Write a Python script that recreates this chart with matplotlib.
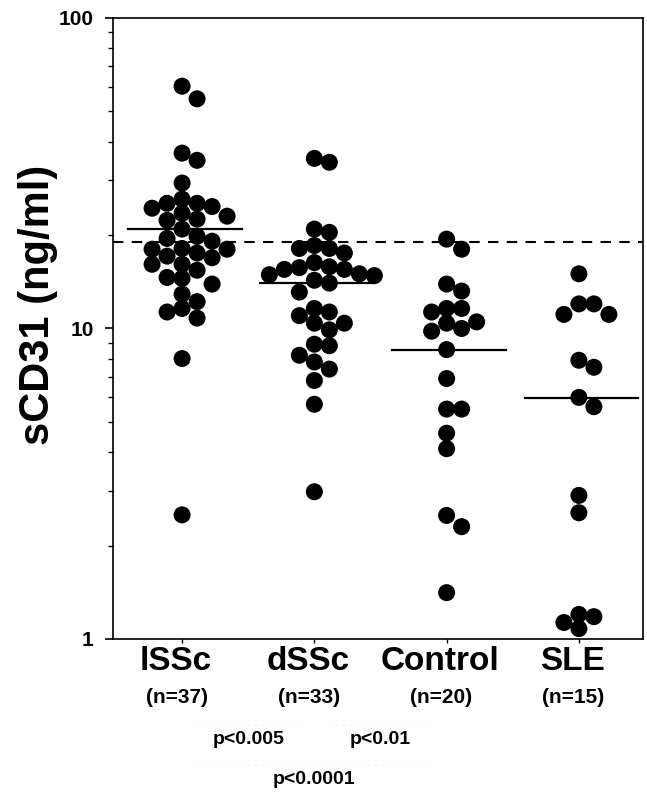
import numpy as np
import matplotlib.pyplot as plt
from matplotlib.ticker import FixedLocator, NullFormatter
import matplotlib.transforms as mtransforms

plt.rcParams['font.family'] = ['Liberation Sans', 'DejaVu Sans']

# ---- data ----
GROUPS = ['lSSc', 'dSSc', 'Control', 'SLE']
N_LABELS = ['(n=37)', '(n=33)', '(n=20)', '(n=15)']

LSSC = [60.3, 54.9, 36.7, 34.8, 29.4, 24.7, 25.3, 26.1, 25.3, 24.4,
        23.0, 23.5, 22.5, 22.3, 20.9, 19.5, 19.8, 19.1, 17.5, 18.1,
        18.0, 18.0, 17.1, 16.9, 16.1, 16.1, 15.4, 14.6, 13.9, 14.5,
        12.9, 12.2, 11.3, 11.6, 10.8, 8.0, 2.51]
DSSC = [35.3, 34.3, 20.9, 20.4, 18.1, 17.5, 18.5, 18.1, 14.8, 15.5,
        15.0, 15.8, 15.5, 16.3, 15.7, 14.3, 14.9, 14.0, 13.1, 11.3,
        11.6, 11.0, 10.4, 10.4, 9.9, 8.8, 8.9, 8.2, 7.8, 7.4,
        6.8, 5.7, 2.98]
CONTROL = [19.4, 18.0, 13.9, 13.2, 11.6, 11.6, 11.3, 10.5, 10.4, 10.0,
           9.8, 8.55, 6.9, 5.5, 5.5, 4.6, 4.1, 2.5, 2.3, 1.41]
SLE = [15.0, 12.0, 12.0, 11.1, 11.1, 7.9, 7.5, 6.0, 5.6, 2.9,
       2.55, 1.13, 1.18, 1.20, 1.08]

MEDIANS = [20.9, 14.0, 8.5, 5.95]
CUTOFF = 19.0

# (group a, group b, label)
COMPARISONS = [(0, 1, 'p<0.005'), (1, 2, 'p<0.01'), (0, 2, 'p<0.0001')]


def swarm_x(ax, xc, values, diam_px=14.0, step_px=15.0):
    """Beeswarm: put each dot as close to the centre as it can go."""
    trans = ax.transData
    inv = trans.inverted()
    cx = trans.transform((xc, 1.0))[0]
    placed = []
    out = np.zeros(len(values))
    for i in np.argsort(values)[::-1]:
        py = trans.transform((xc, values[i]))[1]
        px = None
        for k in range(40):
            cands = [0.0] if k == 0 else [k * step_px, -k * step_px]
            for off in cands:
                qx = cx + off
                if all((qx - a) ** 2 + (py - b) ** 2 >= diam_px ** 2 for a, b in placed):
                    px = qx
                    break
            if px is not None:
                break
        placed.append((px, py))
        out[i] = inv.transform((px, py))[0]
    return out


fig = plt.figure(figsize=(6.47, 7.92), dpi=100)
ax = fig.add_axes([0.1747, 0.1932, 0.8190, 0.7841])

pos = np.arange(1, len(GROUPS) + 1)
ax.set_yscale('log')
ax.set_ylim(1, 100)
ax.set_xlim(0.478, 4.484)

for p, vals, med in zip(pos, [LSSC, DSSC, CONTROL, SLE], MEDIANS):
    xs = swarm_x(ax, p, np.array(vals))
    ax.scatter(xs, vals, s=150, color='black', edgecolors='none', zorder=3)
    ax.plot([p - 0.41, p + 0.45], [med, med], color='black', lw=1.6, zorder=2)

ax.axhline(CUTOFF, color='black', lw=1.5, ls=(0, (5, 4)), zorder=1)

# axes / ticks
for s in ax.spines.values():
    s.set_linewidth(1.2)
ax.yaxis.set_major_locator(FixedLocator([1, 10, 100]))
ax.yaxis.set_minor_locator(FixedLocator([m * d for d in (1, 10) for m in range(2, 10)]))
ax.yaxis.set_minor_formatter(NullFormatter())
ax.set_yticklabels(['1', '10', '100'], fontsize=15, fontweight='bold')
ax.tick_params(axis='y', which='major', direction='out', length=6, width=1.2, pad=8)
ax.tick_params(axis='y', which='minor', direction='out', length=3.5, width=1.0)
ax.set_xticks(pos)
ax.set_xticklabels([])
ax.tick_params(axis='x', direction='out', length=3, width=1.0)

ax.set_ylabel('sCD31 (ng/ml)', fontsize=30, fontweight='bold')
ax.yaxis.set_label_coords(-0.104, 0.538)

# group names under the axis
btrans = mtransforms.blended_transform_factory(ax.transData, ax.transAxes)
for p, name, n in zip(pos, GROUPS, N_LABELS):
    ax.text(p - 0.05, -0.036, name, transform=btrans, ha='center', va='center',
            fontsize=24, fontweight='bold', clip_on=False)
    ax.text(p - 0.04, -0.094, n, transform=btrans, ha='center', va='center',
            fontsize=15, fontweight='bold', clip_on=False)

# faint comparison brackets and p values
levels = [-0.138, -0.138, -0.203]
text_y = [-0.162, -0.162, -0.227]
for (a, b, lab), ly, ty in zip(COMPARISONS, levels, text_y):
    xa, xb = pos[a], pos[b]
    ax.plot([xa + 0.1, xb - 0.1], [ly, ly], transform=btrans, color='0.85',
            lw=0.6, ls=(0, (1, 8)), clip_on=False)
    ax.text((xa + xb) / 2, ty, lab, transform=btrans, ha='center', va='center',
            fontsize=14, fontweight='bold', clip_on=False)

fig.savefig('out.png', dpi=100)
